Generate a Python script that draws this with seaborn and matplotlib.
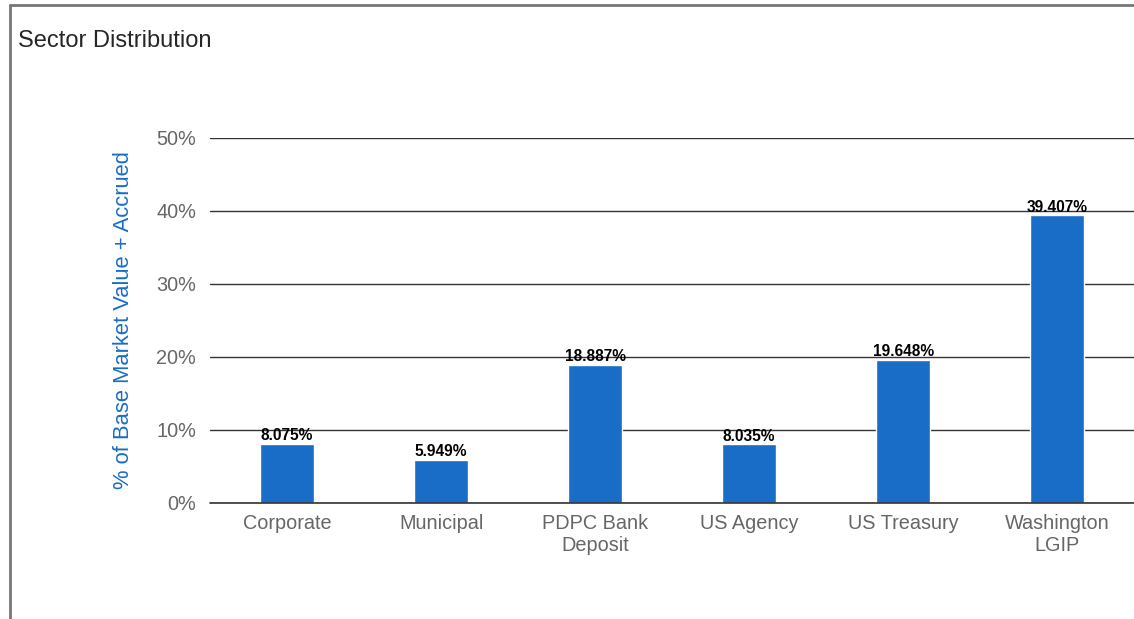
import pandas as pd
import seaborn as sns
import matplotlib.pyplot as plt
from matplotlib.lines import Line2D

sectors = ['Corporate', 'Municipal', 'PDPC Bank\nDeposit', 'US Agency', 'US Treasury', 'Washington\nLGIP']
shares = [8.075, 5.949, 18.887, 8.035, 19.648, 39.407]
yticks = [0, 10, 20, 30, 40, 50]

data = pd.DataFrame({'Sector': sectors, 'Share': shares})

sns.set_style('white')
plt.rcParams['font.family'] = ['Liberation Sans', 'DejaVu Sans']

fig = plt.figure(figsize=(11.34, 6.19), dpi=100)
ax = fig.add_axes([0.1852, 0.1874, 0.815, 0.5897])

sns.barplot(data=data, x='Sector', y='Share', color='#1a6dc7', saturation=1,
            width=0.35, ax=ax, zorder=3)

ax.set_ylim(0, 50)
ax.set_xlim(-0.5, len(sectors) - 0.5)
ax.set_yticks(yticks)
ax.set_yticklabels([f'{t}%' for t in yticks])
ax.yaxis.grid(True, color='#333333', linewidth=1, zorder=0)
ax.set_axisbelow(True)
ax.axhline(0, color='#333333', linewidth=1.2, clip_on=False, zorder=4)
for s in ax.spines.values():
    s.set_visible(False)
ax.tick_params(axis='both', length=0, labelsize=14.3, labelcolor='#666666')
ax.tick_params(axis='y', pad=10)
ax.tick_params(axis='x', pad=8)
ax.set_xlabel('')
ax.set_ylabel('% of Base Market Value + Accrued', color='#1a6dc7', fontsize=15.8, labelpad=16)

# value labels above bars
for i, v in enumerate(shares):
    ax.text(i, v + 0.1, f'{v:.3f}%', ha='center', va='bottom', fontsize=11.2,
            fontweight='bold', color='black', zorder=5)

fig.text(18 / 1134, 1 - 41 / 619, 'Sector Distribution', fontsize=17, va='center', ha='left')

# frame lines at top and left
fig.add_artist(Line2D([10 / 1134, 1], [1 - 5 / 619, 1 - 5 / 619], color='#777777', linewidth=2))
fig.add_artist(Line2D([10 / 1134, 10 / 1134], [0, 1 - 5 / 619], color='#777777', linewidth=2))

plt.savefig('out.png', dpi=100)
